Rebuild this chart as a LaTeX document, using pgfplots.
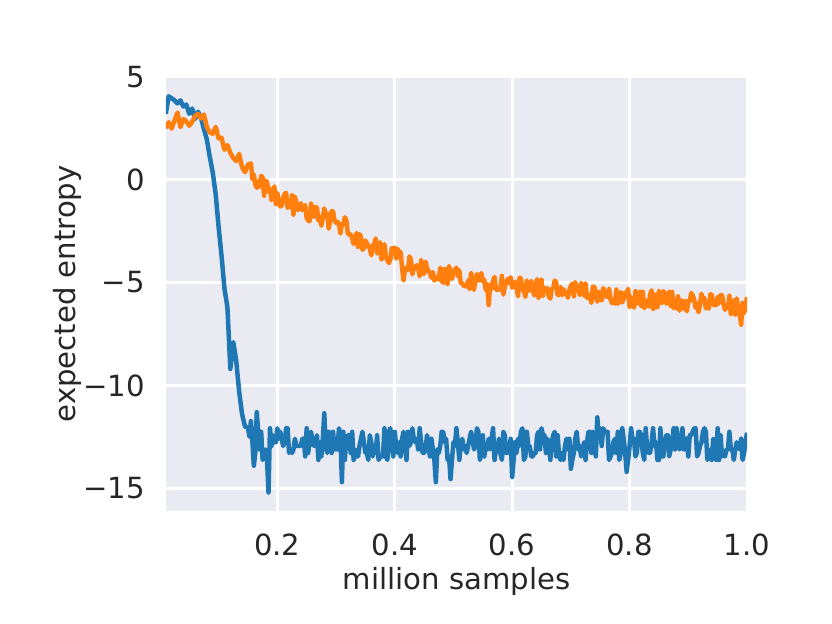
\documentclass[border=0pt]{standalone}
\usepackage{pgfplots}
\pgfplotsset{compat=1.18}
\usepackage{fontspec}
\setmainfont{DejaVu Sans}
\definecolor{bgc}{HTML}{EAEAF2}
\definecolor{txt}{HTML}{262626}
\definecolor{cblue}{HTML}{1F77B4}
\definecolor{corange}{HTML}{FF7F0E}
\newlength\px \setlength\px{0.5559pt}
\begin{document}
\begin{tikzpicture}
\path[use as bounding box] (0pt,0pt) rectangle (832\px,624\px);
\begin{axis}[
  at={(166\px,113\px)}, anchor=south west,
  scale only axis, width=581\px, height=434.3\px,
  xmin=0.0104, xmax=1.0, ymin=-16.1, ymax=5.0,
  axis background/.style={fill=bgc},
  axis line style={draw=none},
  major tick length=0pt,
  grid=major, major grid style={white, line width=1.5pt},
  xtick={0.2,0.4,0.6,0.8,1.0}, xticklabels={0.2,0.4,0.6,0.8,1.0},
  ytick={-15,-10,-5,0,5}, yticklabels={−15,−10,−5,0,5},
  tick label style={font=\fontsize{16.2}{19}\selectfont, text=txt, inner sep=0pt},
  xticklabel style={anchor=north, yshift=-23\px},
  yticklabel style={anchor=east, xshift=-21\px},
  xlabel={million samples}, ylabel={expected entropy},
  every axis x label/.style={at={(axis description cs:0.5,-0.1819)}, anchor=base, inner sep=0pt, font=\fontsize{16.2}{19}\selectfont, text=txt},
  every axis y label/.style={at={(axis description cs:-0.1566,0.5)}, rotate=90, anchor=base, inner sep=0pt, font=\fontsize{16.2}{19}\selectfont, text=txt},
]
\addplot[cblue, line width=2.5pt, line join=round] coordinates {
(0.010,3.20)(0.015,4.05)(0.020,3.95)(0.025,3.85)(0.030,3.70)(0.035,3.85)(0.040,3.55)(0.045,3.65)(0.050,3.20)(0.055,3.45)
(0.060,2.95)(0.065,3.30)(0.070,3.00)(0.075,2.45)(0.080,1.95)(0.085,1.10)(0.090,0.35)(0.095,-0.70)(0.100,-2.30)(0.105,-3.70)
(0.110,-5.30)(0.115,-6.20)(0.120,-9.20)(0.125,-7.90)(0.130,-8.80)(0.135,-10.30)(0.140,-11.40)(0.145,-12.00)
(0.150,-12.04)(0.1525,-12.49)(0.155,-11.73)(0.1575,-12.69)(0.160,-13.90)(0.1625,-13.28)(0.165,-11.30)(0.1675,-12.25)(0.170,-13.11)(0.1725,-12.25)(0.175,-13.62)(0.1775,-13.45)(0.180,-13.11)(0.1825,-13.62)(0.185,-15.20)(0.1875,-12.08)(0.190,-12.94)(0.1925,-12.42)(0.195,-12.76)(0.1975,-12.76)
(0.200,-12.08)(0.2025,-12.59)(0.205,-12.25)(0.2075,-12.59)(0.210,-12.94)(0.2125,-12.76)(0.215,-12.08)(0.2175,-12.08)(0.220,-13.28)(0.2225,-13.11)(0.225,-13.28)(0.2275,-13.11)(0.230,-12.59)(0.2325,-12.94)(0.235,-12.94)(0.2375,-12.94)(0.240,-12.94)(0.2425,-12.59)(0.245,-12.59)(0.2475,-13.45)
(0.250,-12.08)(0.2525,-13.28)(0.255,-12.76)(0.2575,-12.25)(0.260,-12.76)(0.2625,-12.94)(0.265,-12.76)(0.2675,-12.42)(0.270,-13.62)(0.2725,-12.76)(0.275,-13.45)(0.2775,-12.59)(0.280,-11.35)(0.2825,-12.94)(0.285,-13.28)(0.2875,-12.25)(0.290,-12.76)(0.2925,-13.28)(0.295,-12.25)(0.2975,-13.11)
(0.300,-13.11)(0.3025,-13.11)(0.305,-12.08)(0.3075,-12.42)(0.310,-14.70)(0.3125,-12.25)(0.315,-13.62)(0.3175,-12.59)(0.320,-12.42)(0.3225,-12.42)(0.325,-13.28)(0.3275,-12.25)(0.330,-13.62)(0.3325,-13.11)(0.335,-13.45)(0.3375,-13.45)(0.340,-12.94)(0.3425,-12.59)(0.345,-12.25)(0.3475,-12.76)
(0.350,-13.28)(0.3525,-13.28)(0.355,-13.62)(0.3575,-12.42)(0.360,-12.76)(0.3625,-13.45)(0.365,-12.94)(0.3675,-13.28)(0.370,-12.42)(0.3725,-13.62)(0.375,-13.45)(0.3775,-13.45)(0.380,-13.45)(0.3825,-12.08)(0.385,-13.45)(0.3875,-13.62)(0.390,-12.25)(0.3925,-12.08)(0.395,-12.94)(0.3975,-13.45)
(0.400,-12.25)(0.4025,-12.94)(0.405,-13.28)(0.4075,-12.76)(0.410,-13.45)(0.4125,-12.59)(0.415,-12.25)(0.4175,-12.94)(0.420,-13.62)(0.4225,-12.25)(0.425,-12.94)(0.4275,-12.76)(0.430,-12.08)(0.4325,-12.59)(0.435,-12.76)(0.4375,-12.59)(0.440,-13.11)(0.4425,-12.08)(0.445,-12.76)(0.4475,-13.28)
(0.450,-13.28)(0.4525,-13.11)(0.455,-12.42)(0.4575,-12.94)(0.460,-13.45)(0.4625,-12.59)(0.465,-13.11)(0.4675,-13.62)(0.470,-14.70)(0.4725,-13.11)(0.475,-13.28)(0.4775,-12.94)(0.480,-12.25)(0.4825,-12.25)(0.485,-12.76)(0.4875,-12.59)(0.490,-13.62)(0.4925,-13.45)(0.495,-14.55)(0.4975,-13.62)
(0.500,-12.76)(0.5025,-12.94)(0.505,-12.08)(0.5075,-12.76)(0.510,-13.62)(0.5125,-12.94)(0.515,-12.59)(0.5175,-13.11)(0.520,-12.94)(0.5225,-13.28)(0.525,-12.94)(0.5275,-12.59)(0.530,-12.25)(0.5325,-12.59)(0.535,-13.11)(0.5375,-12.94)(0.540,-12.08)(0.5425,-12.25)(0.545,-13.62)(0.5475,-13.28)
(0.550,-12.42)(0.5525,-13.45)(0.555,-12.94)(0.5575,-13.11)(0.560,-12.59)(0.5625,-13.11)(0.565,-12.59)(0.5675,-12.08)(0.570,-13.62)(0.5725,-13.11)(0.575,-13.11)(0.5775,-12.59)(0.580,-13.28)(0.5825,-13.62)(0.585,-12.25)(0.5875,-12.42)(0.590,-13.28)(0.5925,-13.28)(0.595,-13.11)(0.5975,-12.59)
(0.600,-14.45)(0.6025,-13.62)(0.605,-12.76)(0.6075,-13.28)(0.610,-12.59)(0.6125,-12.94)(0.615,-12.25)(0.6175,-12.08)(0.620,-13.62)(0.6225,-13.45)(0.625,-12.25)(0.6275,-12.94)(0.630,-12.94)(0.6325,-13.45)(0.635,-13.45)(0.6375,-13.28)(0.640,-13.28)(0.6425,-12.42)(0.645,-12.25)(0.6475,-13.11)
(0.650,-12.08)(0.6525,-12.42)(0.655,-12.42)(0.6575,-13.28)(0.660,-12.59)(0.6625,-12.94)(0.665,-13.62)(0.6675,-12.76)(0.670,-12.42)(0.6725,-12.25)(0.675,-13.45)(0.6775,-12.42)(0.680,-13.45)(0.6825,-13.62)(0.685,-13.28)(0.6875,-13.62)(0.690,-12.94)(0.6925,-12.59)(0.695,-13.11)(0.6975,-12.59)
(0.700,-14.05)(0.7025,-13.62)(0.705,-13.28)(0.7075,-12.59)(0.710,-12.25)(0.7125,-13.11)(0.715,-12.94)(0.7175,-13.45)(0.720,-13.11)(0.7225,-12.76)(0.725,-13.62)(0.7275,-12.76)(0.730,-12.25)(0.7325,-12.25)(0.735,-13.28)(0.7375,-12.25)(0.740,-12.59)(0.7425,-13.45)(0.745,-11.55)(0.7475,-12.42)
(0.750,-12.08)(0.7525,-12.94)(0.755,-12.08)(0.7575,-12.25)(0.760,-12.25)(0.7625,-12.25)(0.765,-13.62)(0.7675,-13.45)(0.770,-13.28)(0.7725,-12.76)(0.775,-12.59)(0.7775,-13.28)(0.780,-12.25)(0.7825,-13.62)(0.785,-13.28)(0.7875,-12.08)(0.790,-12.59)(0.7925,-13.28)(0.795,-14.20)(0.7975,-13.62)
(0.800,-12.94)(0.8025,-12.08)(0.805,-12.59)(0.8075,-12.59)(0.810,-13.45)(0.8125,-13.28)(0.815,-12.25)(0.8175,-12.25)(0.820,-12.42)(0.8225,-13.28)(0.825,-13.62)(0.8275,-12.08)(0.830,-13.11)(0.8325,-13.28)(0.835,-13.28)(0.8375,-12.76)(0.840,-12.08)(0.8425,-12.94)(0.845,-12.76)(0.8475,-13.62)
(0.850,-13.62)(0.8525,-12.08)(0.855,-13.45)(0.8575,-13.45)(0.860,-12.76)(0.8625,-12.42)(0.865,-12.42)(0.8675,-13.45)(0.870,-13.11)(0.8725,-12.76)(0.875,-12.08)(0.8775,-13.11)(0.880,-12.08)(0.8825,-12.59)(0.885,-13.11)(0.8875,-12.94)(0.890,-12.08)(0.8925,-13.11)(0.895,-12.59)(0.8975,-12.59)
(0.900,-13.45)(0.9025,-12.42)(0.905,-12.42)(0.9075,-12.25)(0.910,-12.08)(0.9125,-12.08)(0.915,-13.45)(0.9175,-13.28)(0.920,-12.94)(0.9225,-12.76)(0.925,-12.25)(0.9275,-12.08)(0.930,-12.25)(0.9325,-13.62)(0.935,-13.28)(0.9375,-13.11)(0.940,-13.62)(0.9425,-12.59)(0.945,-12.76)(0.9475,-13.62)
(0.950,-12.08)(0.9525,-13.62)(0.955,-12.42)(0.9575,-13.45)(0.960,-13.28)(0.9625,-13.45)(0.965,-13.11)(0.9675,-13.11)(0.970,-12.25)(0.9725,-13.11)(0.975,-13.11)(0.9775,-13.62)(0.980,-13.11)(0.9825,-12.76)(0.985,-12.94)(0.9875,-13.11)(0.990,-12.59)(0.9925,-13.62)(0.995,-13.28)(0.9975,-12.76)
(1.000,-12.30)
};
\addplot[corange, line width=2.5pt, line join=round] coordinates {
(0.010,2.50)(0.015,2.79)(0.020,2.48)(0.025,2.87)(0.030,3.26)(0.035,2.55)(0.040,2.94)(0.045,2.83)(0.050,2.62)(0.055,2.81)
(0.060,3.10)(0.065,3.19)(0.070,2.97)(0.075,3.16)(0.080,2.55)(0.085,2.29)(0.090,2.23)(0.095,2.56)(0.100,2.00)(0.105,2.03)
(0.110,1.45)(0.115,1.68)(0.120,1.30)(0.125,1.05)(0.130,0.90)(0.135,1.25)(0.140,0.60)(0.145,0.36)
(0.150,0.73)(0.1525,0.76)(0.155,0.79)(0.1575,0.02)(0.160,0.25)(0.1625,-0.23)(0.165,-0.40)(0.1675,-0.08)(0.170,-0.35)(0.1725,0.18)(0.175,0.10)(0.1775,-0.78)(0.180,-0.05)(0.1825,-0.12)(0.185,-0.58)(0.1875,-0.44)(0.190,-1.00)(0.1925,-0.67)(0.195,-0.33)(0.1975,-1.19)
(0.200,-0.65)(0.2025,-1.08)(0.205,-1.31)(0.2075,-1.25)(0.210,-0.88)(0.2125,-0.71)(0.215,-0.64)(0.2175,-1.37)(0.220,-1.30)(0.2225,-1.33)(0.225,-0.76)(0.2275,-1.70)(0.230,-0.83)(0.2325,-1.16)(0.235,-1.49)(0.2375,-1.22)(0.240,-1.15)(0.2425,-1.48)(0.245,-1.41)(0.2475,-1.24)
(0.250,-1.86)(0.2525,-1.99)(0.255,-2.02)(0.2575,-1.15)(0.260,-1.58)(0.2625,-1.81)(0.265,-1.33)(0.2675,-1.36)(0.270,-1.99)(0.2725,-1.82)(0.275,-2.24)(0.2775,-1.87)(0.280,-1.40)(0.2825,-1.73)(0.285,-1.65)(0.2875,-2.38)(0.290,-2.00)(0.2925,-1.53)(0.295,-1.55)(0.2975,-1.98)
(0.300,-2.10)(0.3025,-2.04)(0.305,-2.18)(0.3075,-2.62)(0.310,-2.15)(0.3125,-2.19)(0.315,-1.83)(0.3175,-1.97)(0.320,-2.60)(0.3225,-2.68)(0.325,-2.66)(0.3275,-2.85)(0.330,-3.13)(0.3325,-2.91)(0.335,-2.59)(0.3375,-3.27)(0.340,-2.65)(0.3425,-2.78)(0.345,-3.41)(0.3475,-3.34)
(0.350,-2.96)(0.3525,-3.09)(0.355,-3.22)(0.3575,-3.35)(0.360,-3.68)(0.3625,-3.21)(0.365,-3.13)(0.3675,-2.86)(0.370,-3.59)(0.3725,-3.42)(0.375,-3.04)(0.3775,-3.87)(0.380,-3.30)(0.3825,-3.14)(0.385,-3.78)(0.3875,-3.92)(0.390,-4.05)(0.3925,-3.89)(0.395,-3.33)(0.3975,-3.37)
(0.400,-3.30)(0.4025,-3.84)(0.405,-3.37)(0.4075,-3.50)(0.410,-3.53)(0.4125,-4.27)(0.415,-4.90)(0.4175,-4.34)(0.420,-4.27)(0.4225,-4.40)(0.425,-3.73)(0.4275,-3.87)(0.430,-4.60)(0.4325,-4.22)(0.435,-4.34)(0.4375,-4.16)(0.440,-4.28)(0.4425,-4.70)(0.445,-3.92)(0.4475,-4.55)
(0.450,-4.57)(0.4525,-3.99)(0.455,-4.31)(0.4575,-4.43)(0.460,-4.55)(0.4625,-4.77)(0.465,-4.49)(0.4675,-4.91)(0.470,-4.73)(0.4725,-4.75)(0.475,-4.86)(0.4775,-4.28)(0.480,-4.90)(0.4825,-5.02)(0.485,-4.34)(0.4875,-4.96)(0.490,-5.08)(0.4925,-4.20)(0.495,-4.51)(0.4975,-4.83)
(0.500,-4.45)(0.5025,-4.37)(0.505,-4.28)(0.5075,-4.70)(0.510,-4.41)(0.5125,-5.03)(0.515,-5.04)(0.5175,-5.16)(0.520,-5.17)(0.5225,-5.19)(0.525,-4.90)(0.5275,-5.32)(0.530,-4.53)(0.5325,-4.85)(0.535,-5.36)(0.5375,-4.88)(0.540,-4.59)(0.5425,-4.91)(0.545,-4.82)(0.5475,-4.54)
(0.550,-4.95)(0.5525,-4.86)(0.555,-5.37)(0.5575,-5.08)(0.560,-6.10)(0.5625,-5.10)(0.565,-5.31)(0.5675,-4.92)(0.570,-4.73)(0.5725,-5.34)(0.575,-5.35)(0.5775,-5.36)(0.580,-5.27)(0.5825,-4.68)(0.585,-5.59)(0.5875,-5.20)(0.590,-5.01)(0.5925,-4.82)(0.595,-5.03)(0.5975,-4.74)
(0.600,-5.25)(0.6025,-5.16)(0.605,-4.96)(0.6075,-5.27)(0.610,-5.67)(0.6125,-4.78)(0.615,-4.78)(0.6175,-5.39)(0.620,-5.39)(0.6225,-5.70)(0.625,-4.90)(0.6275,-5.41)(0.630,-5.31)(0.6325,-4.92)(0.635,-5.32)(0.6375,-5.63)(0.640,-5.13)(0.6425,-4.84)(0.645,-5.74)(0.6475,-5.15)
(0.650,-4.85)(0.6525,-5.66)(0.655,-5.26)(0.6575,-5.37)(0.660,-5.27)(0.6625,-5.68)(0.665,-5.78)(0.6675,-5.29)(0.670,-5.29)(0.6725,-4.90)(0.675,-5.00)(0.6775,-5.61)(0.680,-5.61)(0.6825,-5.22)(0.685,-5.62)(0.6875,-5.33)(0.690,-5.53)(0.6925,-5.54)(0.695,-5.74)(0.6975,-5.35)
(0.700,-5.15)(0.7025,-5.06)(0.705,-5.67)(0.7075,-4.98)(0.710,-5.39)(0.7125,-5.20)(0.715,-5.61)(0.7175,-5.02)(0.720,-5.43)(0.7225,-5.64)(0.725,-5.05)(0.7275,-5.76)(0.730,-5.57)(0.7325,-5.68)(0.735,-5.99)(0.7375,-5.20)(0.740,-5.21)(0.7425,-5.62)(0.745,-5.93)(0.7475,-5.44)
(0.750,-5.85)(0.7525,-5.86)(0.755,-5.27)(0.7575,-5.48)(0.760,-5.68)(0.7625,-5.69)(0.765,-5.30)(0.7675,-5.81)(0.770,-6.01)(0.7725,-5.82)(0.775,-6.03)(0.7775,-5.34)(0.780,-6.04)(0.7825,-5.85)(0.785,-5.46)(0.7875,-5.97)(0.790,-5.77)(0.7925,-5.48)(0.795,-5.69)(0.7975,-5.30)
(0.800,-6.20)(0.8025,-5.71)(0.805,-6.01)(0.8075,-6.22)(0.810,-5.42)(0.8125,-6.03)(0.815,-5.83)(0.8175,-5.44)(0.820,-6.14)(0.8225,-5.45)(0.825,-6.25)(0.8275,-5.86)(0.830,-6.06)(0.8325,-6.17)(0.835,-5.57)(0.8375,-5.38)(0.840,-6.28)(0.8425,-5.59)(0.845,-6.19)(0.8475,-6.20)
(0.850,-5.40)(0.8525,-5.71)(0.855,-6.01)(0.8575,-5.42)(0.860,-5.52)(0.8625,-6.03)(0.865,-5.83)(0.8675,-5.44)(0.870,-6.14)(0.8725,-5.45)(0.875,-6.25)(0.8775,-6.06)(0.880,-6.26)(0.8825,-5.67)(0.885,-6.37)(0.8875,-5.88)(0.890,-5.88)(0.8925,-6.29)(0.895,-5.89)(0.8975,-6.40)
(0.900,-5.90)(0.9025,-5.91)(0.905,-5.51)(0.9075,-5.62)(0.910,-5.82)(0.9125,-6.23)(0.915,-6.03)(0.9175,-6.44)(0.920,-6.04)(0.9225,-5.55)(0.925,-5.85)(0.9275,-5.76)(0.930,-6.26)(0.9325,-6.07)(0.935,-6.27)(0.9375,-5.58)(0.940,-5.58)(0.9425,-6.09)(0.945,-6.09)(0.9475,-6.10)
(0.950,-5.70)(0.9525,-6.01)(0.955,-5.61)(0.9575,-5.62)(0.960,-6.02)(0.9625,-6.33)(0.965,-6.13)(0.9675,-6.24)(0.970,-5.64)(0.9725,-6.55)(0.975,-6.25)(0.9775,-5.86)(0.980,-6.56)(0.9825,-5.77)(0.985,-6.27)(0.9875,-6.48)(0.990,-7.05)(0.9925,-5.99)(0.995,-6.49)(0.9975,-6.20)
(1.000,-5.70)
};
\end{axis}
\end{tikzpicture}
\end{document}
